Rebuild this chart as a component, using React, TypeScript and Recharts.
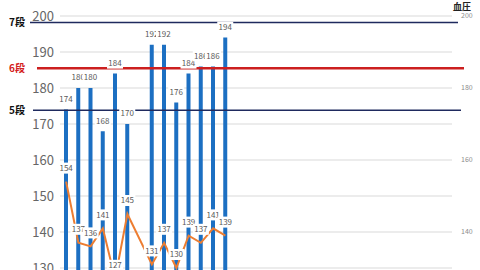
import React from "react";
import {
  ComposedChart, Bar, Line, XAxis, YAxis, CartesianGrid, ReferenceLine, LabelList,
} from "recharts";

// one slot per day; the chart is cropped so the axis itself is not visible
const DAYS = [
  "1", "2", "3", "4", "5", "6", "7", "8", "9", "10", "11", "12", "13", "14", "15", "16",
  "17", "18", "19", "20", "21", "22", "23", "24", "25", "26", "27", "28", "29", "30", "31", "32",
];
const BAR_VALUES = [
  174, 180, 180, 168, 184, 170, null, 192, 192, 176, 184, 186, 186, 194, null, null,
  null, null, null, null, null, null, null, null, null, null, null, null, null, null, null, null,
];
const LINE_VALUES = [
  154, 137, 136, 141, 127, 145, null, 131, 137, 130, 139, 137, 141, 139, null, null,
  null, null, null, null, null, null, null, null, null, null, null, null, null, null, null, null,
];
const LEFT_TICKS = [100, 110, 120, 130, 140, 150, 160, 170, 180, 190, 200];
const RIGHT_TICKS = [100, 120, 140, 160, 180, 200];
const LEVEL_NAMES = ["7段", "6段", "5段"];
const LEVEL_VALUES = [198.2, 185.5, 173.8];

const data = DAYS.map((day, i) => ({ day, high: BAR_VALUES[i], low: LINE_VALUES[i] }));

const FONT = '"Noto Sans CJK JP", "Noto Sans", sans-serif';

const boxLabel = (lift: number) => (props: any) => {
  const { value } = props;
  if (value == null) return null;
  const vb = props.viewBox ?? props;
  const x = vb.x ?? props.x;
  const y = vb.y ?? props.y;
  const w = vb.width ?? 0;
  const cx = x + w / 2;
  const cy = y - lift;
  return (
    <g>
      <rect x={cx - 8} y={cy - 5.5} width={16} height={11} fill="#fff" />
      <text x={cx} y={cy} dy="0.35em" textAnchor="middle" fontSize={8} fill="#595959" fontFamily={FONT}>
        {value}
      </text>
    </g>
  );
};

const levelShape = (name: string, color: string, labelColor: string, sw: number, extL: number, extR: number) =>
  (props: any) => {
    const { x1, x2, y1 } = props;
    return (
      <g>
        <line x1={x1 - extL} x2={x2 + extR} y1={y1} y2={y1} stroke={color} strokeWidth={sw} />
        <text x={17} y={y1} dy="0.35em" textAnchor="middle" fontSize={10} fontWeight="bold" fill={labelColor} fontFamily={FONT}>
          {name}
        </text>
      </g>
    );
  };

export default function App() {
  return (
    <div style={{ position: "fixed", left: 0, top: 0, width: 480, height: 270, overflow: "hidden", background: "#fff" }}>
      <ComposedChart
        width={480}
        height={400}
        data={data}
        margin={{ top: 16, right: 0, bottom: 24, left: 0 }}
        style={{ fontFamily: FONT }}
      >
        <CartesianGrid yAxisId="left" vertical={false} stroke="#d9d9d9" />
        <XAxis dataKey="day" hide />
        <YAxis
          yAxisId="left"
          width={60}
          domain={[100, 200]}
          ticks={LEFT_TICKS}
          tickLine={false}
          axisLine={false}
          tick={{ fill: "#666", fontSize: 13, dx: 2 }}
        />
        <YAxis
          yAxisId="right"
          orientation="right"
          width={28}
          domain={[100, 200]}
          ticks={RIGHT_TICKS}
          tickLine={false}
          axisLine={false}
          tick={{ fill: "#8c8c8c", fontSize: 7, dx: 1 }}
          label={{
            content: () => (
              <text x={462} y={10} textAnchor="middle" fontSize={9} fontWeight="bold" fill="#222" fontFamily={FONT}>
                血圧
              </text>
            ),
          }}
        />
        <ReferenceLine yAxisId="left" y={LEVEL_VALUES[0]} shape={levelShape(LEVEL_NAMES[0], "#1f2a5e", "#111", 1.5, 30, 6)} />
        <ReferenceLine yAxisId="left" y={LEVEL_VALUES[1]} shape={levelShape(LEVEL_NAMES[1], "#cc1f1f", "#d42020", 2.5, 23, 12)} />
        <ReferenceLine yAxisId="left" y={LEVEL_VALUES[2]} shape={levelShape(LEVEL_NAMES[2], "#1f2a5e", "#111", 1.5, 27, 9)} />
        <Bar yAxisId="left" dataKey="high" fill="#1c6fc2" barSize={4} isAnimationActive={false}>
          <LabelList dataKey="high" content={boxLabel(10.5)} />
        </Bar>
        <Line
          yAxisId="right"
          dataKey="low"
          stroke="#ed7d31"
          strokeWidth={2}
          dot={false}
          connectNulls
          isAnimationActive={false}
        >
          <LabelList dataKey="low" content={boxLabel(13.5)} />
        </Line>
      </ComposedChart>
    </div>
  );
}
